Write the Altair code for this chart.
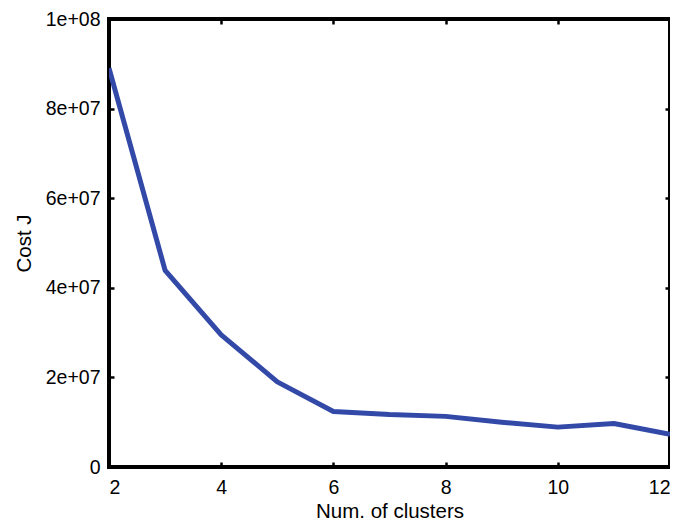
import altair as alt
import pandas as pd

clusters = [2, 3, 4, 5, 6, 7, 8, 9, 10, 11, 12]
cost = [8.9e7, 4.39e7, 2.95e7, 1.9e7, 1.24e7, 1.17e7, 1.13e7, 1.0e7, 0.89e7, 0.97e7, 0.73e7]

x_ticks = [2, 4, 6, 8, 10, 12]
y_ticks = [0, 2e7, 4e7, 6e7, 8e7, 1e8]
y_tick_labels = ["0", "2e+07", "4e+07", "6e+07", "8e+07", "1e+08"]

df = pd.DataFrame({"k": clusters, "J": cost})

expr = "''"
for v, lab in zip(y_ticks, y_tick_labels):
    expr = f"abs(datum.value - {v}) < 1 ? '{lab}' : ({expr})"

FONT = "Liberation Sans"
LINE_COLOR = "#3249a8"
TS = 5

xs = alt.Scale(domain=[2, 12], nice=False, zero=False)
ys = alt.Scale(domain=[0, 1e8], nice=False)

base = alt.Chart(df)

main = base.mark_line(color=LINE_COLOR, strokeWidth=5, strokeJoin="round", clip=True).encode(
    x=alt.X("k:Q", scale=xs, title="Num. of clusters",
            axis=alt.Axis(values=x_ticks, orient="bottom", offset=-TS, tickSize=TS,
                          tickWidth=2.5, tickColor="black", domain=False, grid=False,
                          labelPadding=11, labelFontSize=19.5, labelFont=FONT, labelColor="black",
                          titleFontSize=20.5, titleFont=FONT, titleFontWeight="normal",
                          titleColor="black", titlePadding=5, format="d")),
    y=alt.Y("J:Q", scale=ys, title="Cost J",
            axis=alt.Axis(values=y_ticks, orient="left", offset=-TS, tickSize=TS,
                          tickWidth=2.5, tickColor="black", domain=False, grid=False,
                          labelPadding=9, labelFontSize=19.5, labelFont=FONT, labelColor="black",
                          labelExpr=expr,
                          titleFontSize=20.5, titleFont=FONT, titleFontWeight="normal",
                          titleColor="black", titlePadding=11)),
)

other = base.mark_line(opacity=0).encode(
    x=alt.X("k:Q", scale=xs, title=None,
            axis=alt.Axis(values=x_ticks, orient="top", offset=-TS, tickSize=TS,
                          tickWidth=2.5, tickColor="black", domain=False, grid=False,
                          labels=False)),
    y=alt.Y("J:Q", scale=ys, title=None,
            axis=alt.Axis(values=y_ticks, orient="right", offset=-TS, tickSize=TS,
                          tickWidth=2.5, tickColor="black", domain=False, grid=False,
                          labels=False)),
)

chart = alt.layer(main, other).resolve_axis(x="independent", y="independent").properties(
    width=561, height=448,
    autosize=alt.AutoSizeParams(type="none"),
    padding={"left": 101, "top": 11, "right": 0, "bottom": 54},
    background="white",
).configure_view(stroke="black", strokeWidth=4)

chart.save("out.html", embed_options={"renderer": "svg", "actions": False})
